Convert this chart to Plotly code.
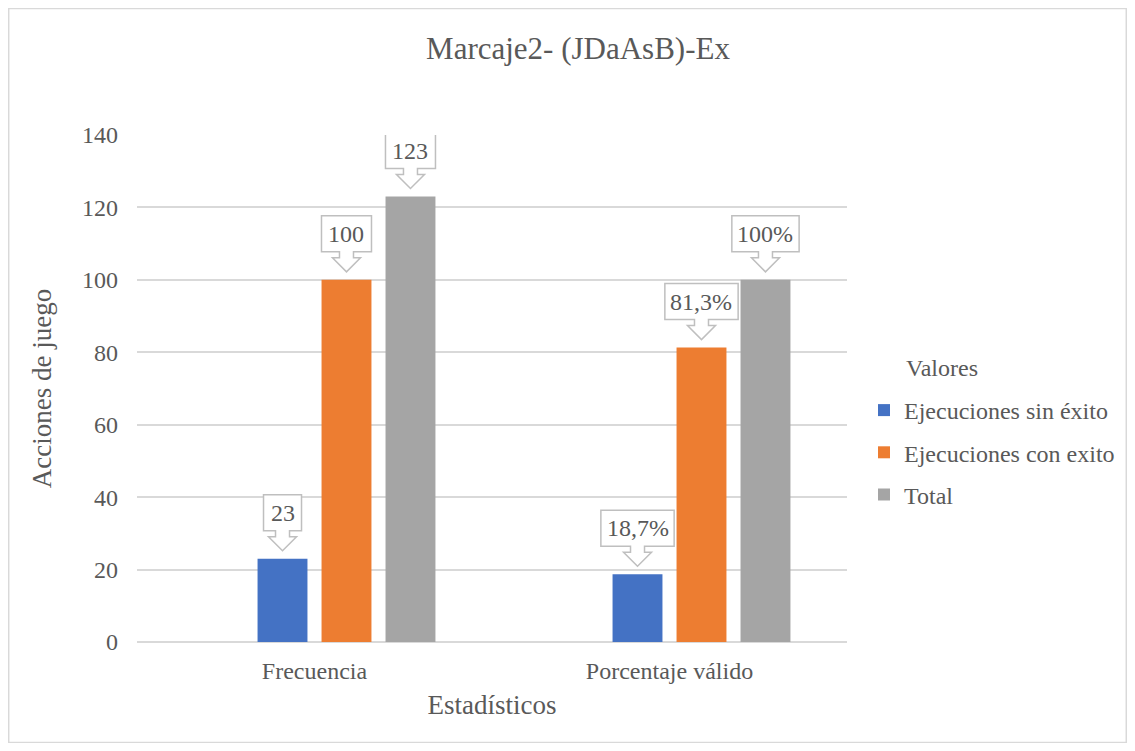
import plotly.graph_objects as go

# datos
categorias = ["Frecuencia", "Porcentaje válido"]
sin_exito = [23, 18.7]
con_exito = [100, 81.3]
total = [123, 100]
vacio = [0, 0]  # serie vacia del grafico dinamico

etq_sin = ["23", "18,7%"]
etq_con = ["100", "81,3%"]
etq_total = ["123", "100%"]

series = [
    ("Ejecuciones sin éxito", sin_exito, etq_sin, "#4472C4"),
    ("Ejecuciones con exito", con_exito, etq_con, "#ED7D31"),
    ("Total", total, etq_total, "#A5A5A5"),
]

# la pagina deja 8px de margen alrededor de la figura
W, H = 1119, 735
L, R, T, B = 129, 280, 127, 101
BARGAP = 0.279
GROUPGAP = 0.22
NSLOT = 4
FONT = "'Liberation Serif', 'Times New Roman', serif"
TXT = "#595959"
FS = 24
pw, ph = W - L - R, H - T - B

fig = go.Figure()
fig.add_trace(go.Bar(x=categorias, y=vacio, showlegend=False, hoverinfo="skip",
                     marker=dict(color="rgba(0,0,0,0)", line_width=0)))
for i, (nombre, vals, _, col) in enumerate(series):
    fig.add_trace(go.Bar(x=categorias, y=vals, name=nombre, legendgroup=str(i),
                         marker=dict(color=col, line_width=0)))

# ancho aproximado del texto para la caja del rotulo
anchos = {",": 0.25, "%": 0.72}
def ancho_txt(s, size=FS):
    return sum(anchos.get(ch, 0.5) for ch in s) * size

shapes = []
annotations = []
slot = (1 - BARGAP) / NSLOT
for i, (nombre, vals, etqs, col) in enumerate(series):
    k = i + 1  # posicion dentro del grupo (la primera es la serie vacia)
    off = -(1 - BARGAP) / 2 + (k + 0.5) * slot
    for c, (v, e) in enumerate(zip(vals, etqs)):
        xc = c + off
        hw = (ancho_txt(e) + 14) / 2
        p = (f"M{-hw},28 L-7,28 L-7,22 L-14,22 L0,8 L14,22 L7,22 L7,28 "
             f"L{hw},28 L{hw},64 L{-hw},64 Z")
        shapes.append(dict(type="path", xref="x", yref="y", xsizemode="pixel",
                           ysizemode="pixel", xanchor=xc, yanchor=v, path=p,
                           line=dict(color="#BFBFBF", width=1.5),
                           fillcolor="white", layer="above"))
        annotations.append(dict(x=xc, y=v, xref="x", yref="y", text=e,
                                showarrow=False, yanchor="middle", yshift=46,
                                font=dict(size=FS, color=TXT, family=FONT)))

# titulo de la leyenda
annotations.append(dict(x=(904 - 8 - L) / pw, y=1 - (368 - 8 - T) / ph,
                        xref="paper", yref="paper", xanchor="left",
                        yanchor="middle", text="Valores", showarrow=False,
                        font=dict(size=FS, color=TXT, family=FONT)))

# marco exterior del grafico
shapes.append(dict(type="rect", xref="paper", yref="paper",
                   x0=-L / pw + 0.001, x1=1 + R / pw - 0.001,
                   y0=-B / ph + 0.001, y1=1 + T / ph - 0.001,
                   line=dict(color="#D9D9D9", width=1.5), layer="below"))

fig.update_layout(
    width=W, height=H,
    margin=dict(l=L, r=R, t=T, b=B, autoexpand=False),
    paper_bgcolor="white", plot_bgcolor="white",
    barmode="group", bargap=BARGAP, bargroupgap=GROUPGAP,
    font=dict(family=FONT, color=TXT, size=FS),
    title=dict(text="Marcaje2- (JDaAsB)-Ex", x=(578 - 8) / W, xanchor="center",
               y=1 - (48 - 8) / H, yanchor="middle",
               font=dict(size=31, color=TXT, family=FONT)),
    xaxis=dict(showgrid=False, showline=False, ticks="",
               ticklabelstandoff=12,
               tickfont=dict(size=FS, color=TXT, family=FONT),
               title=dict(text="Estadísticos", standoff=12,
                          font=dict(size=27, color=TXT, family=FONT))),
    yaxis=dict(range=[0, 140], dtick=20, showgrid=True, gridcolor="#D9D9D9",
               gridwidth=1.5, zeroline=True, zerolinecolor="#D9D9D9",
               zerolinewidth=1.5, showline=False, ticks="",
               ticklabelstandoff=18,
               tickfont=dict(size=FS, color=TXT, family=FONT),
               title=dict(text="Acciones de juego", standoff=22,
                          font=dict(size=27, color=TXT, family=FONT))),
    legend=dict(x=(864 - 8 - L) / pw, xanchor="left", y=1 - (388 - 8 - T) / ph,
                yanchor="top", traceorder="grouped", tracegroupgap=8,
                font=dict(size=FS, color=TXT, family=FONT)),
    shapes=shapes,
    annotations=annotations,
)

fig.write_html("out.html")
